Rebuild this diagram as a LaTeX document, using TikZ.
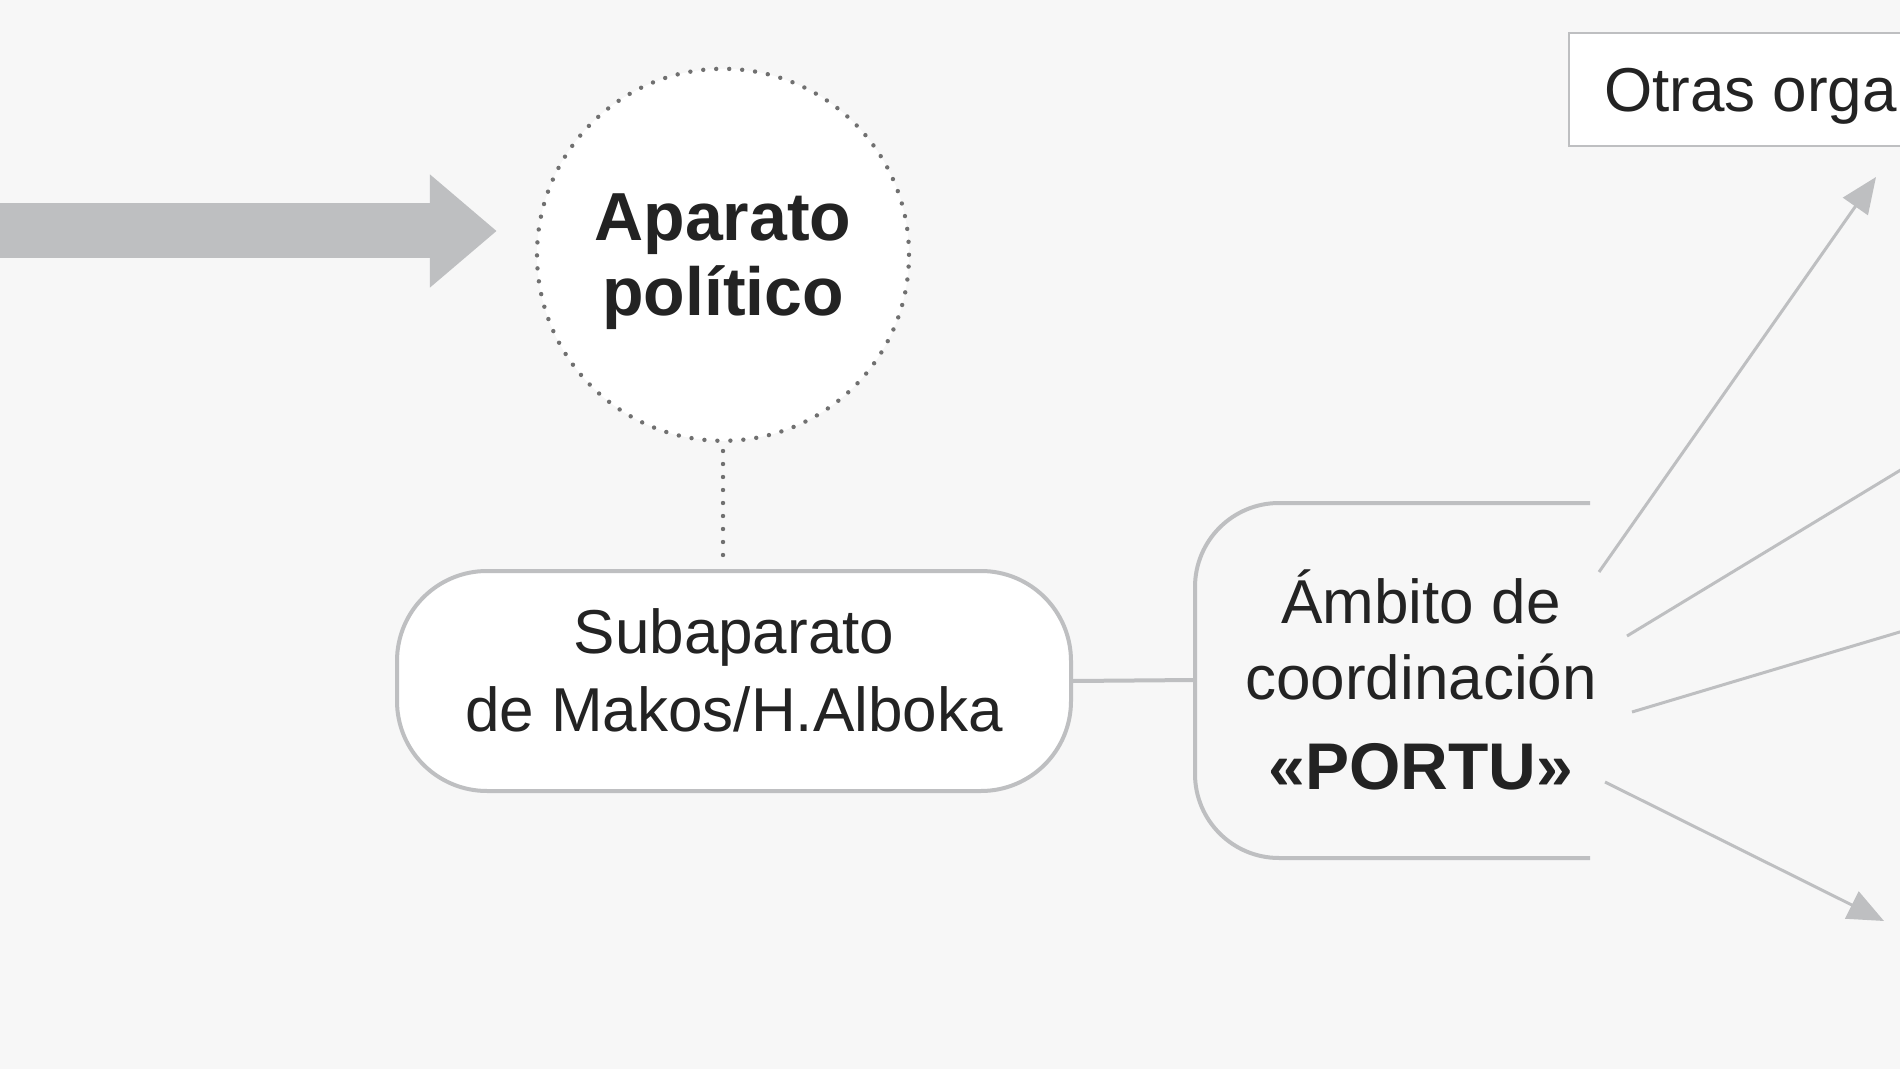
\documentclass[tikz,border=0pt]{standalone}
\usepackage{fontspec}
\setmainfont{Liberation Sans}
\usepackage{tikz}
\usetikzlibrary{arrows.meta,positioning}
\definecolor{fondo}{RGB}{247,247,247}
\definecolor{gris}{RGB}{190,191,193}
\definecolor{puntos}{RGB}{112,112,112}
\definecolor{texto}{RGB}{35,35,35}

\begin{document}
\begin{tikzpicture}[x=0.5pt,y=-0.5pt,
		caja/.style={draw=gris, line width=2pt, fill=white, rounded corners=45pt,
			align=center, text=texto, font=\fontsize{31}{39}\selectfont},
		punteado/.style={draw=puntos, line width=2.2pt, line cap=round, dash pattern=on 0pt off 6.5pt},
		flecha/.style={draw=gris, line width=1.5pt, -{Triangle[length=18pt,width=15pt]}},
		gruesa/.style={draw=gris, line width=27.5pt, -{Triangle[length=33.5pt,width=54.5pt]}}
	]
		\useasboundingbox (0,0) rectangle (1900,1069);
		\fill[fondo] (0,0) rectangle (1900,1069);
		\clip (0,0) rectangle (1900,1069);
		
		\node[caja, minimum width=337pt, minimum height=110pt, text depth=11pt] (sub) at (734,681) {Subaparato\\de Makos/H.Alboka};
		\node[circle, punteado, fill=white, minimum size=186pt, align=center, text=texto, text depth=0pt,
			font=\bfseries\fontsize{34}{37.5}\selectfont, above=63pt of sub, xshift=-5.5pt] (aparato) {Aparato\\político};
		\node[align=center, text=texto, font=\fontsize{31}{38}\selectfont] (ambito) at (1421,680)
			{Ámbito de\\coordinación\\[7pt]{\bfseries\fontsize{33}{38}\selectfont «PORTU»}};
		\node[draw=gris, line width=1pt, fill=white, anchor=west, minimum height=56.5pt, inner xsep=17.5pt,
			text depth=0pt, text=texto, font=\fontsize{31}{38}\selectfont] (otras) at (1568,90) {Otras orga};
		
		% marco abierto de PORTU
		\draw[gris, line width=2pt, rounded corners=42pt] (1590,503) -- (1195,503) -- (1195,858) -- (1590,858);
		\coordinate (ambitoW) at (1195,680);
		
		\coordinate (entrada) at (0,231);
		\draw[gruesa, shorten >=19pt] (entrada) -- (entrada -| aparato.west);
		\draw[punteado, shorten <=4pt, shorten >=4pt] (aparato.south) -- (aparato.south |- sub.north);
		\draw[gris, line width=2pt] (sub.east) -- (ambitoW);
		
		% salidas
		\coordinate (s1) at (1599,572);
		\coordinate (s2) at (1627,636);
		\coordinate (s3) at (1632,712);
		\coordinate (s4) at (1605,782);
		\coordinate (t1) at (1876,177);
		\coordinate (t2) at (1960,434);
		\coordinate (t3) at (1960,614);
		\coordinate (t4) at (1884,921);
		\foreach \i in {1,...,4}
			\draw[flecha] (s\i) -- (t\i);
	\end{tikzpicture}
\end{document}
